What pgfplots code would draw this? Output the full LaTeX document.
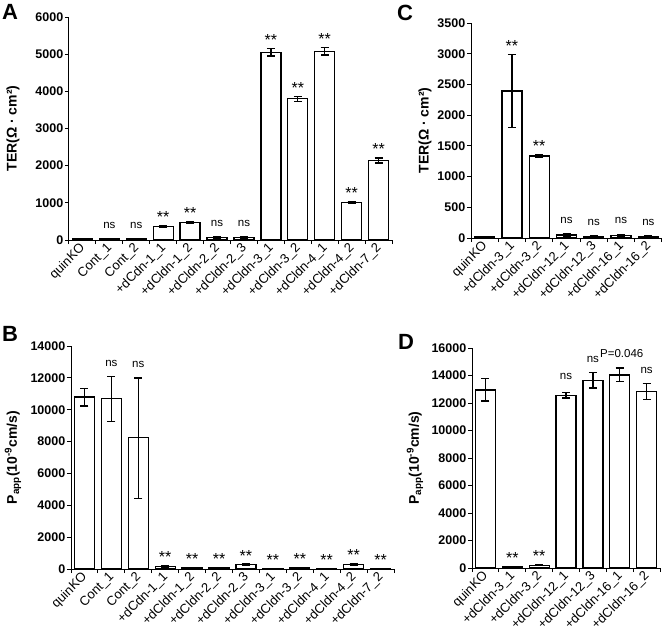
\documentclass[border=0pt]{standalone}
\usepackage{pgfplots}
\pgfplotsset{compat=1.18}
\usepackage{fontspec}
\setmainfont{Liberation Sans}

\pgfplotsset{
  panel/.style={
    scale only axis,
    axis x line*=bottom, axis y line*=left,
    axis line style={line width=1pt},
    tick align=outside,
    major tick length=4pt, minor tick length=4pt,
    tick style={black, line width=1pt},
    major x tick style={draw=none},
    ymin=0, clip=false,
    scaled y ticks=false,
    /pgf/number format/1000 sep={},
    /pgf/number format/assume math mode=true,
    yticklabel style={font=\fontsize{12.5}{14}\selectfont\bfseries, inner sep=1.5pt},
    xticklabel style={font=\fontsize{13}{15}\selectfont, rotate=45, anchor=east, inner sep=1pt, yshift=-2pt},
    every axis y label/.style={rotate=90, anchor=center},
    ylabel style={font=\fontsize{14}{16}\selectfont\bfseries},
  },
  bars/.style={ybar, bar width=20pt, fill=white, draw=black, line width=1.3pt,
    error bars/.cd, y dir=both, y explicit,
    error bar style={line width=1.3pt, black},
    error mark options={rotate=90, mark size=4pt, line width=1.3pt, black}},
  ns/.style={draw=none, mark=none, nodes near coords, point meta=explicit symbolic,
    nodes near coords style={anchor=base, inner sep=0pt, yshift=10.5pt,
      font=\fontsize{11.5}{14}\selectfont}},
  stars/.style={draw=none, mark=none, nodes near coords, point meta=explicit symbolic,
    nodes near coords style={anchor=base, inner sep=0pt, yshift=3pt,
      font=\fontsize{16}{18}\selectfont}},
}

\begin{document}
\begin{tikzpicture}
\useasboundingbox (0,0) rectangle (666pt,-641pt);

% panel letters
\node[font=\fontsize{22}{24}\selectfont\bfseries, anchor=north west, inner sep=0pt] at (2pt,-4pt) {A};
\node[font=\fontsize{22}{24}\selectfont\bfseries, anchor=north west, inner sep=0pt] at (2pt,-326pt) {B};
\node[font=\fontsize{22}{24}\selectfont\bfseries, anchor=north west, inner sep=0pt] at (397pt,-5pt) {C};
\node[font=\fontsize{22}{24}\selectfont\bfseries, anchor=north west, inner sep=0pt] at (398pt,-334pt) {D};

% A: TER
\begin{axis}[panel, at={(69pt,-240pt)}, anchor=south west,
  width=323pt, height=223pt,
  xmin=-0.5, xmax=11.5, ymax=6000, ytick={0,1000,...,6000},
  xtick={0,...,11}, minor xtick={-0.5,0.5,...,11.5},
  xticklabels={quinKO,Cont\_1,Cont\_2,+dCdn-1\_1,+dCldn-1\_2,+dCldn-2\_2,+dCldn-2\_3,
    +dCldn-3\_1,+dCldn-3\_2,+dCldn-4\_1,+dCldn-4\_2,+dCldn-7\_2},
  ylabel={TER(Ω · cm²)},
  ylabel style={at={(axis description cs:-0.1734,0.5)}}]
\addplot[bars] coordinates {
  (0,40) +- (0,10)
  (1,30) +- (0,8)
  (2,30) +- (0,8)
  (3,360) +- (0,30)
  (4,465) +- (0,20)
  (5,70) +- (0,12)
  (6,70) +- (0,12)
  (7,5050) +- (0,100)
  (8,3800) +- (0,65)
  (9,5080) +- (0,100)
  (10,1010) +- (0,15)
  (11,2140) +- (0,70)
};
\addplot[ns] coordinates {(1,38)[ns] (2,38)[ns] (5,82)[ns] (6,82)[ns]};
\addplot[stars] coordinates {(3,390)[**] (4,485)[**] (7,5150)[**] (8,3865)[**]
  (9,5180)[**] (10,1025)[**] (11,2210)[**]};
\end{axis}

% B: Papp
\begin{axis}[panel, at={(71pt,-569pt)}, anchor=south west,
  width=323pt, height=223pt,
  xmin=-0.5, xmax=11.5, ymax=14000, ytick={0,2000,...,14000},
  xtick={0,...,11}, minor xtick={-0.5,0.5,...,11.5},
  xticklabels={quinKO,Cont\_1,Cont\_2,+dCdn-1\_1,+dCldn-1\_2,+dCldn-2\_2,+dCldn-2\_3,
    +dCldn-3\_1,+dCldn-3\_2,+dCldn-4\_1,+dCldn-4\_2,+dCldn-7\_2},
  ylabel={P\textsubscript{app}(10\textsuperscript{-9}cm/s)},
  ylabel style={at={(axis description cs:-0.1796,0.5)}}]
\addplot[bars] coordinates {
  (0,10800) += (0,540) -= (0,560)
  (1,10700) += (0,1370) -= (0,1450)
  (2,8240) += (0,3750) -= (0,3830)
  (3,160) +- (0,40)
  (4,80) +- (0,20)
  (5,90) +- (0,20)
  (6,270) +- (0,40)
  (7,30) +- (0,10)
  (8,60) +- (0,20)
  (9,30) +- (0,10)
  (10,290) +- (0,30)
  (11,30) +- (0,10)
};
\addplot[ns] coordinates {(1,12070)[ns] (2,11990)[ns]};
\addplot[stars] coordinates {(3,200)[**] (4,100)[**] (5,110)[**] (6,310)[**]
  (7,40)[**] (8,80)[**] (9,40)[**] (10,320)[**] (11,40)[**]};
\end{axis}

% C: TER
\begin{axis}[panel, at={(471pt,-238pt)}, anchor=south west,
  width=191pt, height=215pt,
  xmin=-0.5, xmax=6.5, ymax=3500, ytick={0,500,...,3500},
  xtick={0,...,6}, minor xtick={-0.5,0.5,...,6.5},
  xticklabels={quinKO,+dCldn-3\_1,+dCldn-3\_2,+dCldn-12\_1,+dCldn-12\_3,+dCldn-16\_1,+dCldn-16\_2},
  ylabel={TER(Ω · cm²)},
  ylabel style={at={(axis description cs:-0.2408,0.5)}}]
\addplot[bars] coordinates {
  (0,20) +- (0,5)
  (1,2395) += (0,595) -= (0,593)
  (2,1335) +- (0,20)
  (3,50) +- (0,15)
  (4,30) +- (0,8)
  (5,40) +- (0,20)
  (6,30) +- (0,8)
};
\addplot[ns] coordinates {(3,65)[ns] (4,38)[ns] (5,60)[ns] (6,38)[ns]};
\addplot[stars] coordinates {(1,2990)[**] (2,1355)[**]};
\end{axis}

% D: Papp
\begin{axis}[panel, at={(472pt,-568pt)}, anchor=south west,
  width=188pt, height=220pt,
  xmin=-0.5, xmax=6.5, ymax=16000, ytick={0,2000,...,16000},
  xtick={0,...,6}, minor xtick={-0.5,0.5,...,6.5},
  xticklabels={quinKO,+dCldn-3\_1,+dCldn-3\_2,+dCldn-12\_1,+dCldn-12\_3,+dCldn-16\_1,+dCldn-16\_2},
  ylabel={P\textsubscript{app}(10\textsuperscript{-9}cm/s)},
  ylabel style={at={(axis description cs:-0.3032,0.5)}}]
\addplot[bars] coordinates {
  (0,12950) += (0,820) -= (0,800)
  (1,100) +- (0,20)
  (2,200) +- (0,30)
  (3,12560) +- (0,200)
  (4,13650) +- (0,550)
  (5,14040) +- (0,500)
  (6,12820) +- (0,580)
};
\addplot[ns] coordinates {(3,12950)[ns] (4,14200)[ns] (6,13400)[ns]};
\addplot[ns, nodes near coords style={xshift=2pt}] coordinates {(5,14540)[P=0.046]};
\addplot[stars] coordinates {(1,120)[**] (2,230)[**]};
\end{axis}
\end{tikzpicture}
\end{document}
